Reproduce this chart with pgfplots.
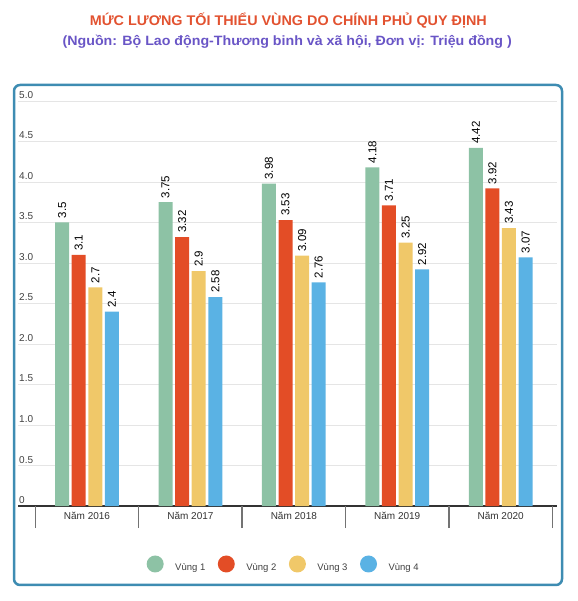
\documentclass[border=0pt]{standalone}
\usepackage{pgfplots}
\pgfplotsset{compat=1.18}
\usepackage{fontspec}
\setmainfont{Liberation Sans}
\usepackage{graphicx}
\definecolor{cA}{RGB}{141,194,165}
\definecolor{cB}{RGB}{227,77,38}
\definecolor{cC}{RGB}{240,200,105}
\definecolor{cD}{RGB}{90,178,228}
\definecolor{titlec}{RGB}{226,82,48}
\definecolor{subc}{RGB}{105,85,198}
\definecolor{framec}{RGB}{62,140,178}
\begin{document}
\begin{tikzpicture}
\path[use as bounding box] (0,0) rectangle (578bp,601bp);
\node[anchor=base, inner sep=0pt, text=titlec, font=\fontsize{14bp}{17bp}\selectfont\bfseries] at (288.3bp,575bp) {\resizebox{397bp}{\height}{MỨC LƯƠNG TỐI THIỂU VÙNG DO CHÍNH PHỦ QUY ĐỊNH}};
\node[anchor=base, inner sep=0pt, text=subc, font=\fontsize{13.5bp}{16bp}\selectfont\bfseries] at (287.2bp,555bp) {\resizebox{449bp}{\height}{(Nguồn: Bộ Lao động-Thương binh và xã hội, Đơn vị: Triệu đồng )}};
\begin{axis}[
  at={(18bp,95bp)}, anchor=south west, scale only axis,
  width=538.5bp, height=405bp,
  xmin=-0.667, xmax=4.54, ymin=0, ymax=5,
  ybar=2.6bp, bar width=14bp,
  xtick={0,1,2,3,4},
  xticklabels={Năm 2016,Năm 2017,Năm 2018,Năm 2019,Năm 2020},
  ytick={0,0.5,1,1.5,2,2.5,3,3.5,4,4.5,5},
  yticklabels={0,0.5,1.0,1.5,2.0,2.5,3.0,3.5,4.0,4.5,5.0},
  major tick length=0pt,
  ytick style={draw=none},
  ymajorgrids,
  grid style={color=black!10, line width=0.9bp},
  axis x line*=bottom,
  x axis line style={line width=2.5bp, color=black!80},
  y axis line style={draw=none},
  extra x ticks={-0.5,0.5,1.5,2.5,3.5,4.5},
  extra x tick labels={,,,,,},
  extra x tick style={major tick length=22bp, tick align=outside, tick style={line width=1.4bp, color=black!55}, grid=none},
  xticklabel style={font=\fontsize{10bp}{12bp}\selectfont, text=black!80, yshift=-3bp},
  yticklabel style={font=\fontsize{10bp}{12bp}\selectfont, text=black!75, anchor=base west, inner sep=0pt, xshift=1bp, yshift=2.5bp},
  nodes near coords,
  nodes near coords style={rotate=90, anchor=west, font=\fontsize{11.5bp}{13bp}\selectfont, text=black, inner xsep=4bp, inner ysep=0pt},
  /pgf/number format/assume math mode=true,
  clip=false,
  legend columns=4,
  legend image code/.code={\fill[#1,draw=none] (8.5bp,3.4bp) circle (8.5bp);},
  legend style={at={(axis description cs:0.2386,-0.1432)}, anchor=west, draw=none, fill=none, inner sep=0pt,
    font=\fontsize{9.5bp}{11bp}\selectfont, text=black!75, nodes={inner sep=0pt},
    /tikz/every odd column/.append style={column sep=11.5bp},
    /tikz/every even column/.append style={column sep=12.5bp}},
]
\addplot[fill=cA, draw=none] coordinates {(0,3.5) (1,3.75) (2,3.98) (3,4.18) (4,4.42)};
\addplot[fill=cB, draw=none] coordinates {(0,3.1) (1,3.32) (2,3.53) (3,3.71) (4,3.92)};
\addplot[fill=cC, draw=none] coordinates {(0,2.7) (1,2.9) (2,3.09) (3,3.25) (4,3.43)};
\addplot[fill=cD, draw=none] coordinates {(0,2.4) (1,2.58) (2,2.76) (3,2.92) (4,3.07)};
\legend{Vùng 1,Vùng 2,Vùng 3,Vùng 4}
\end{axis}
\draw[framec, line width=2.5bp, rounded corners=6bp] (14bp,16bp) rectangle (562bp,516bp);
\end{tikzpicture}
\end{document}
